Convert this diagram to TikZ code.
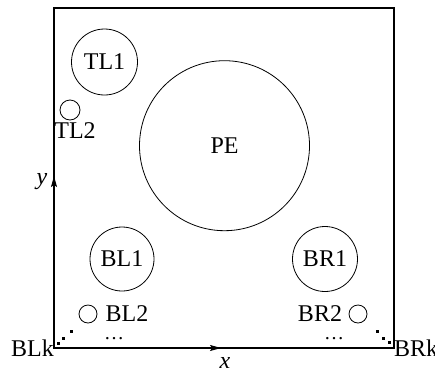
\documentclass[tikz,border=0pt]{standalone}
\usepackage{fontspec}
\setmainfont{Liberation Serif}
\usetikzlibrary{arrows.meta}
\begin{document}
\begin{tikzpicture}[x=1pt,y=-1pt,
  lbl/.style={inner sep=0pt,font=\fontsize{24}{28}\selectfont},
  ball/.style={circle,draw,line width=0.8pt,inner sep=0pt,font=\fontsize{24}{28}\selectfont},
  hole/.style={circle,draw,line width=0.8pt,inner sep=0pt},
  axis/.style={line width=1.1pt,-{Stealth[length=11pt,width=6pt,inset=2pt]}}]
\useasboundingbox (0,0) rectangle (435,375);
% box
\coordinate (bl) at (54,348);
\coordinate (br) at (394,348);
\coordinate (tl) at (54,8);
\coordinate (tr) at (394,8);
\draw[line width=1.1pt] (bl) rectangle (tr);
% axes
\coordinate (ytip) at (54,176);
\coordinate (xtip) at (221,348);
\draw[axis] (bl) -- (ytip);
\draw[axis] (bl) -- (xtip);
\node[lbl,font=\fontsize{24}{28}\selectfont\itshape] (ylab) at (42,182) {y};
\node[lbl,font=\fontsize{24}{28}\selectfont\itshape] (xlab) at (225,363) {x};
% circles
\node[ball,minimum size=66pt] (TL1) at (104.5,62) {TL1};
\node[ball,minimum size=170pt] (PE) at (224.5,145.7) {PE};
\node[ball,minimum size=64pt] (BL1) at (122,259) {BL1};
\node[ball,minimum size=65pt] (BR1) at (325,259) {BR1};
\node[hole,minimum size=20pt] (TL2c) at (70,110) {};
\node[lbl] (TL2) at (75,130.5) {TL2};
\node[hole,minimum size=18pt] (BL2c) at (88,314) {};
\node[lbl] (BL2) at (127,314) {BL2};
\node[hole,minimum size=18pt] (BR2c) at (358,314) {};
\node[lbl] (BR2) at (320,314) {BR2};
% dots
\node[inner sep=0pt,anchor=base,font=\fontsize{20}{24}\selectfont] (dl) at (114,339) {\ldots};
\node[inner sep=0pt,anchor=base,font=\fontsize{20}{24}\selectfont] (dr) at (334,339) {\ldots};
\foreach \p in {(58.3,343.3),(63.3,338.3),(71.3,331.7),(377.3,331.7),(383.3,338.3),(389.3,342.7)}
  \fill \p ++(-1.4,-1.4) rectangle ++(2.8,2.8);
% corner labels
\node[lbl,anchor=north east] (BLk) at ([yshift=8pt]bl) {BLk};
\node[lbl,anchor=north west] (BRk) at ([yshift=8pt]br) {BRk};
\end{tikzpicture}
\end{document}
